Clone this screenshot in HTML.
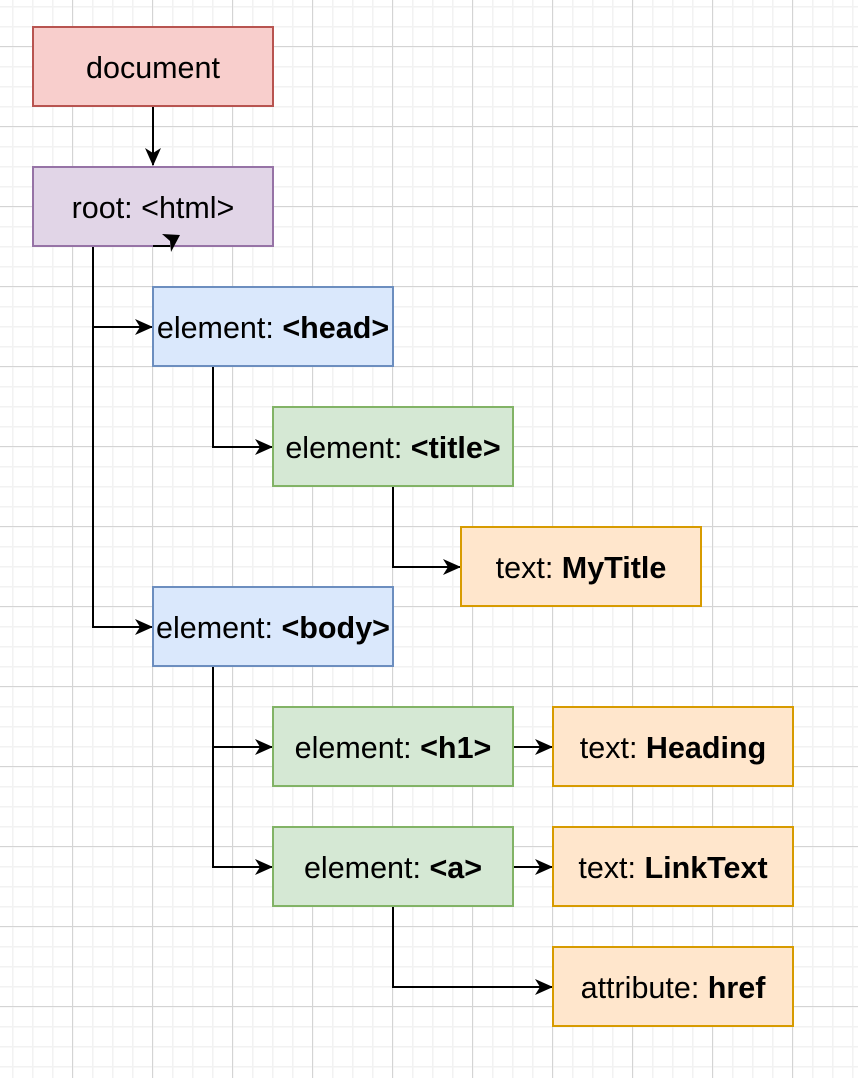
<!DOCTYPE html>
<html><head><meta charset="utf-8"><style>
html,body{margin:0;padding:0;background:#fff;}
svg{display:block;}
text{font-family:"Liberation Sans",Arial,sans-serif;font-size:30.5px;fill:#000;}
</style></head><body>
<svg width="858" height="1078" viewBox="0 0 858 1078" xmlns="http://www.w3.org/2000/svg">
<defs>
<pattern id="minor" x="12" y="6" width="20" height="20" patternUnits="userSpaceOnUse">
<path d="M0.5 0V20M0 0.5H20" stroke="#f2f2f2" stroke-width="2" fill="none"/>
</pattern>
<pattern id="major" x="72" y="46" width="80" height="80" patternUnits="userSpaceOnUse">
<path d="M0.5 0V80M0 0.5H80" stroke="#d4d4d4" stroke-width="1" fill="none"/>
</pattern>
<marker id="ar" markerWidth="18" markerHeight="16" refX="17" refY="8" orient="auto" markerUnits="userSpaceOnUse">
<path d="M0 0L18 8L0 16L5 8Z" fill="#000"/>
</marker>
</defs>
<rect width="858" height="1078" fill="url(#minor)"/>
<rect width="858" height="1078" fill="url(#major)"/>
<g stroke="#000" stroke-width="2" fill="none">
<path d="M153 107V165" marker-end="url(#ar)"/>
<path d="M93 247V627H152" marker-end="url(#ar)"/>
<path d="M93 327H152" marker-end="url(#ar)"/>
<path d="M213 367V447H272" marker-end="url(#ar)"/>
<path d="M393 487V567H460" marker-end="url(#ar)"/>
<path d="M213 667V867H272" marker-end="url(#ar)"/>
<path d="M213 747H272" marker-end="url(#ar)"/>
<path d="M513 747H552" marker-end="url(#ar)"/>
<path d="M513 867H552" marker-end="url(#ar)"/>
<path d="M393 907V987H552" marker-end="url(#ar)"/>
</g>
<g stroke-width="2">
<rect x="33" y="27" width="240" height="79" fill="#f8cecc" stroke="#b85450"/>
<rect x="33" y="167" width="240" height="79" fill="#e1d5e7" stroke="#9673a6"/>
<rect x="153" y="287" width="240" height="79" fill="#dae8fc" stroke="#6c8ebf"/>
<rect x="273" y="407" width="240" height="79" fill="#d5e8d4" stroke="#82b366"/>
<rect x="461" y="527" width="240" height="79" fill="#ffe6cc" stroke="#d79b00"/>
<rect x="153" y="587" width="240" height="79" fill="#dae8fc" stroke="#6c8ebf"/>
<rect x="273" y="707" width="240" height="79" fill="#d5e8d4" stroke="#82b366"/>
<rect x="553" y="707" width="240" height="79" fill="#ffe6cc" stroke="#d79b00"/>
<rect x="273" y="827" width="240" height="79" fill="#d5e8d4" stroke="#82b366"/>
<rect x="553" y="827" width="240" height="79" fill="#ffe6cc" stroke="#d79b00"/>
<rect x="553" y="947" width="240" height="79" fill="#ffe6cc" stroke="#d79b00"/>
</g>
<path d="M153 246H170" stroke="#000" stroke-width="2"/>
<path d="M162 234L180 235L171 252L170 241Z" fill="#000"/>
<g text-anchor="middle">
<text x="153" y="78">document</text>
<text x="153" y="218">root: &lt;html&gt;</text>
<text x="273" y="338">element: <tspan font-weight="bold">&lt;head&gt;</tspan></text>
<text x="393" y="458">element: <tspan font-weight="bold">&lt;title&gt;</tspan></text>
<text x="581" y="578">text: <tspan font-weight="bold">MyTitle</tspan></text>
<text x="273" y="638">element: <tspan font-weight="bold">&lt;body&gt;</tspan></text>
<text x="393" y="758">element: <tspan font-weight="bold">&lt;h1&gt;</tspan></text>
<text x="673" y="758">text: <tspan font-weight="bold">Heading</tspan></text>
<text x="393" y="878">element: <tspan font-weight="bold">&lt;a&gt;</tspan></text>
<text x="673" y="878">text: <tspan font-weight="bold">LinkText</tspan></text>
<text x="673" y="998">attribute: <tspan font-weight="bold">href</tspan></text>
</g>
</svg>
</body></html>
